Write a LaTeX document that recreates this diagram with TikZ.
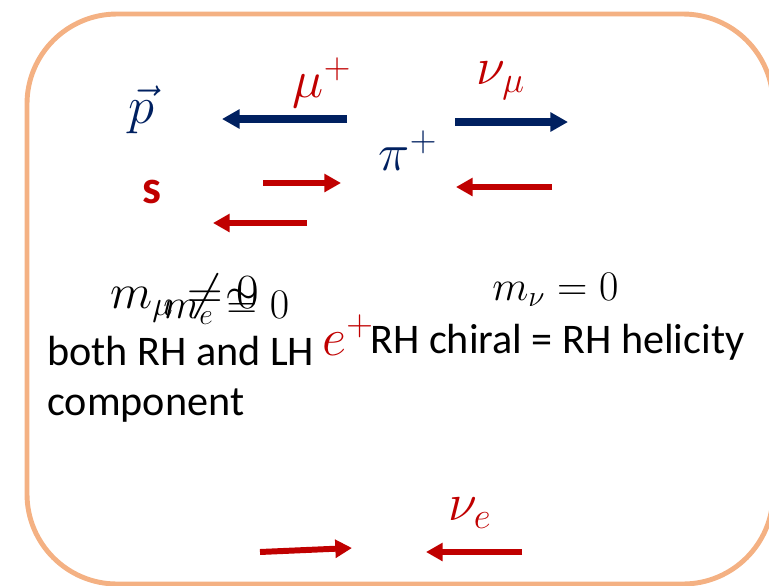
\RequirePackage{fix-cm}
\documentclass[tikz,border=0pt]{standalone}
\usepackage[no-math]{fontspec}
\setmainfont{Carlito}
\usetikzlibrary{arrows.meta}
\definecolor{boxorange}{HTML}{F4B183}
\definecolor{darkblue}{HTML}{002060}
\definecolor{darkred}{HTML}{C00000}

\begin{document}
\begin{tikzpicture}[x=0.02cm, y=-0.02cm,
		bluearrow/.style={draw=darkblue, line width=4pt, -{Triangle[length=10pt, width=10.5pt]}},
		redarrow/.style={draw=darkred, line width=3.4pt, -{Triangle[length=9.5pt, width=10pt]}},
		bigmath/.style={font=\fontsize{30}{36}\selectfont, inner sep=0pt},
		smallmath/.style={font=\fontsize{24}{29}\selectfont, inner sep=0pt, anchor=base west},
		bodytext/.style={font=\fontsize{24}{29}\selectfont, inner sep=0pt, anchor=base west}]
		\useasboundingbox (0,0) rectangle (769,586);
		\draw[boxorange, line width=2.8pt, rounded corners=1.8cm] (27,14) rectangle (773,584);
		\node[bigmath, text=darkblue] (p) at (141,110){$\vec{p}$};
		\node[bigmath, text=darkred] (mu) at (322,83){$\mu^+$};
		\node[bigmath, text=darkred] (numu) at (501,81){$\nu_\mu$};
		\node[bigmath, text=darkblue] (pi) at (408,151){$\pi^+$};
		\node[inner sep=0pt, text=darkred, font=\fontsize{27}{32}\selectfont\bfseries] (s) at (152,192){s};
		\draw[bluearrow] (347,119) -- (222,119);
		\draw[bluearrow] (455,122) -- (568,122);
		\draw[redarrow] (263,183) -- (341,183);
		\draw[redarrow] (552,187) -- (456,187);
		\draw[redarrow] (307,223) -- (213,223);
		\node[smallmath, font=\fontsize{28}{34}\selectfont] (mmu) at (110,308){$m_\mu \neq 0$};
		\node[smallmath] (me) at (163,318){$m_e \cong 0$};
		\node[smallmath] (mnu) at (492,300){$m_\nu = 0$};
		\node[bodytext] (both) at (47,365){both RH and LH};
		\node[bodytext] (comp) at (47,415){component};
		\node[bigmath, anchor=base west, text=darkred] (ep) at (322,355){$e^+$};
		\node[bodytext] (chiral) at (370,353){RH chiral = RH helicity};
		\node[bigmath, text=darkred] (nue) at (470,513){$\nu_e$};
		\draw[redarrow] (260,552) -- (352,548);
		\draw[redarrow] (522,552) -- (426,552);
\end{tikzpicture}
\end{document}
